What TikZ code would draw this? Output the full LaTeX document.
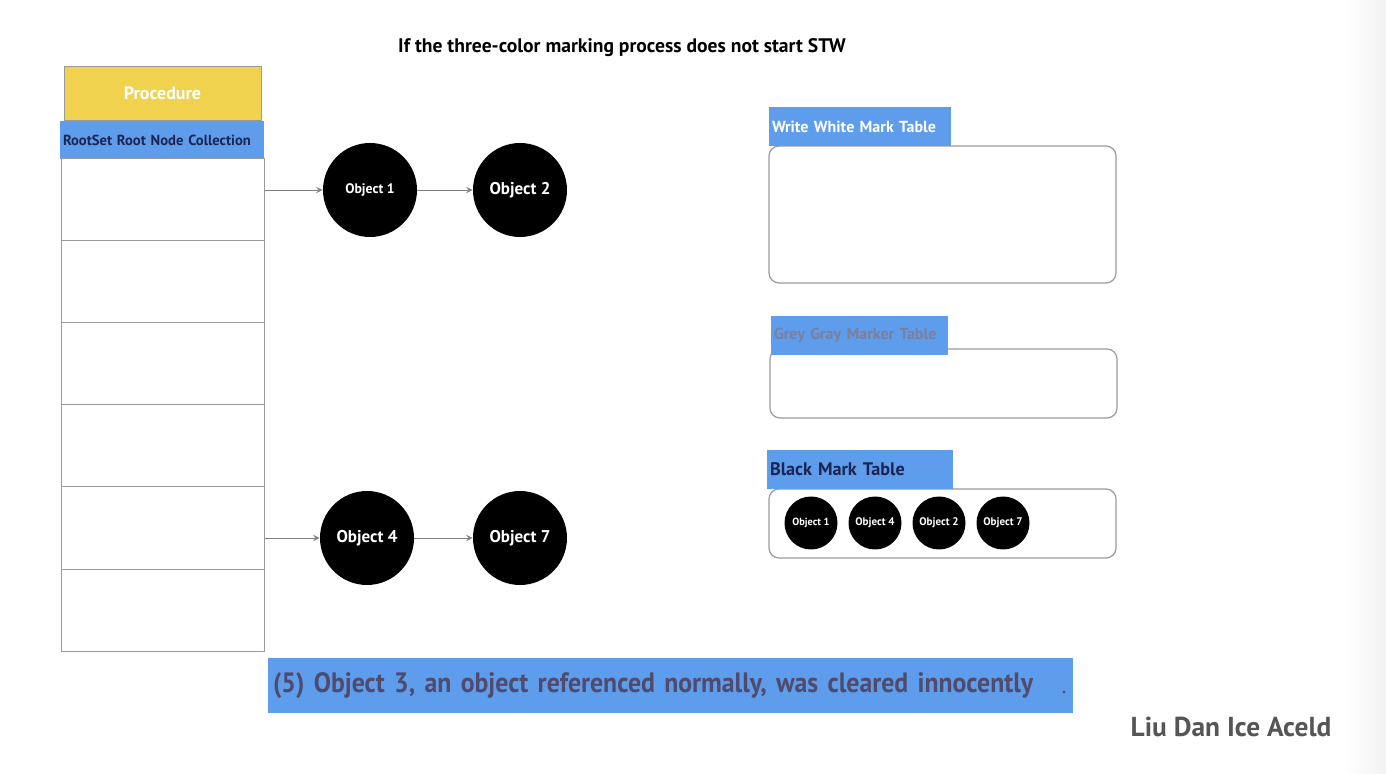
\documentclass[tikz,border=0pt]{standalone}
\usepackage{fontspec}
\setmainfont{PT Sans}
\newfontfamily\bannerfont[FakeStretch=0.92]{PT Sans}
\definecolor{gcBlue}{HTML}{5E9CEC}
\definecolor{gcYellow}{HTML}{F0D24F}
\definecolor{gcNavy}{HTML}{1C2452}
\definecolor{gcSlate}{HTML}{4F4B6E}
\definecolor{gcGrayText}{HTML}{7E7F9A}
\definecolor{gcEdge}{HTML}{9A9A9A}
\definecolor{gcSign}{HTML}{555555}

\begin{document}
\begin{tikzpicture}[x=0.5pt,y=-0.5pt,
    cell/.style={draw=gcEdge, line width=0.5pt, minimum width=101.5pt, minimum height=41pt, inner sep=0pt},
    head/.style={fill=gcBlue, inner xsep=1.5pt, inner ysep=0pt, align=left, minimum height=19.5pt,
                 font=\bfseries\fontsize{8}{9}\selectfont},
    marktable/.style={draw=gcEdge, line width=0.6pt, rounded corners=5pt, minimum width=173.5pt, inner sep=0pt},
    obj/.style={circle, fill=black, minimum size=47pt, inner sep=0pt, text=white,
                font=\bfseries\fontsize{8.5}{9}\selectfont},
    mini/.style={circle, fill=black, minimum size=26.5pt, inner sep=0pt, text=white,
                 font=\bfseries\fontsize{5.5}{6}\selectfont},
    link/.style={->, >=stealth, draw=gray, line width=0.45pt}]
    \useasboundingbox (0,0) rectangle (1386,774);
    \shade[left color=white, right color=black!5] (1345,0) rectangle (1386,774);

    \node[font=\bfseries\fontsize{9.8}{11}\selectfont] (title) at (622,48) {If the three-color marking process does not start STW};

    % stack of roots
    \node[draw=gcEdge, fill=gcYellow, minimum width=98.5pt, minimum height=27pt, inner sep=0pt,
          text=white, font=\bfseries\fontsize{9}{10}\selectfont] (proc) at (162.5,93) {Procedure};
    \node[head, fill=gcBlue, text=gcNavy, text width=99pt, font=\bfseries\fontsize{7.3}{8}\selectfont,
          minimum height=19pt] (root) at (162,140) {RootSet Root Node Collection};
    \foreach \i in {1,...,6}
        \node[cell] (cell\i) at (162.5,{200+82*(\i-1)}) {};

    \node[obj, font=\bfseries\fontsize{6.9}{7}\selectfont] (obj1) at (370,190) {Object 1};
    \node[obj] (obj2) at (520,190) {Object 2};
    \node[obj] (obj4) at (367,538) {Object 4};
    \node[obj] (obj7) at (520,538) {Object 7};
    \draw[link] (cell1.east |- obj1.west) -- (obj1.west);
    \draw[link] (obj1) -- (obj2);
    \draw[link] (cell5.east |- obj4.west) -- (obj4.west);
    \draw[link] (obj4) -- (obj7);

    % the three tables
    \node[marktable, minimum height=68.5pt] (white) at (942.5,214.5) {};
    \node[head, text=white, text width=88pt] (whiteHd) at (860,126.5) {Write White Mark Table};
    \node[marktable, minimum height=34.5pt] (grey) at (943.5,383.5) {};
    \node[head, text=gcGrayText, text width=85.5pt] (greyHd) at (859.5,335.5) {Grey Gray Marker Table};
    \node[marktable, minimum height=34.5pt] (black) at (942.5,523.5) {};
    \node[head, text=gcNavy, text width=90pt, font=\bfseries\fontsize{9.1}{10}\selectfont] (blackHd) at (860,469.5) {Black Mark Table};
    \node[mini, font=\bfseries\fontsize{5.2}{6}\selectfont] (blk1) at (811,523) {Object 1};
    \node[mini] (blk4) at (875,523) {Object 4};
    \node[mini] (blk2) at (939,523) {Object 2};
    \node[mini] (blk7) at (1003,523) {Object 7};

    \node[fill=gcBlue, minimum width=402.5pt, minimum height=27.5pt, inner xsep=2.5pt, text width=397.5pt,
          align=left, text=gcSlate, font=\bannerfont\bfseries\fontsize{14}{16}\selectfont] (note) at (670.5,685.5)
          {(5) Object 3, an object referenced normally, was cleared innocently};
    \node[text=gcSlate, font=\bfseries\fontsize{8}{8}\selectfont] (dot) at (1064,692) {.};
    \node[text=gcSign, font=\bfseries\fontsize{13.7}{15}\selectfont] (sign) at (1231,727) {Liu Dan Ice Aceld};
\end{tikzpicture}
\end{document}
